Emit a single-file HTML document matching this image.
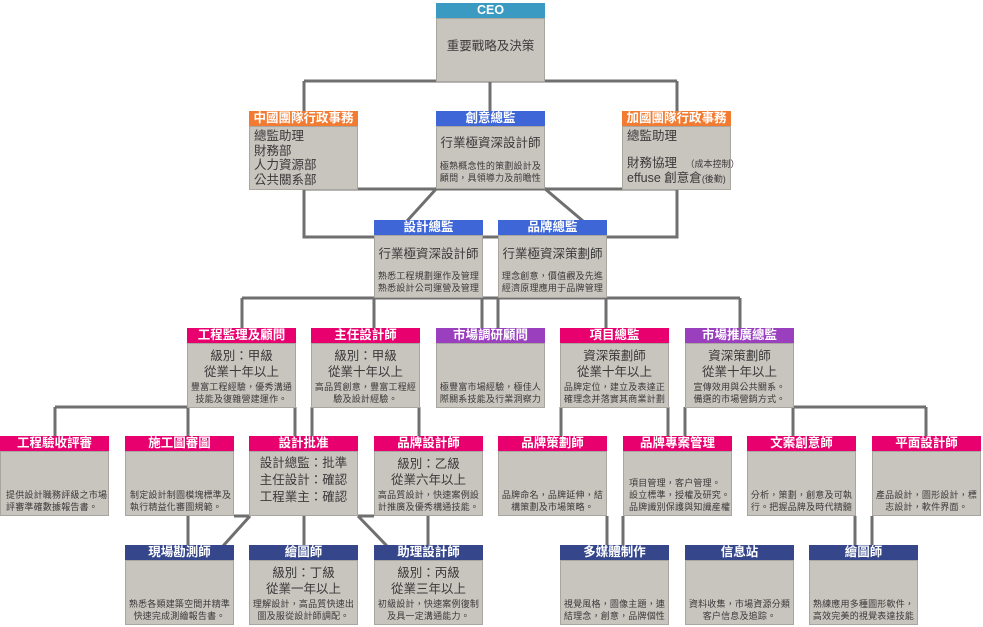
<!DOCTYPE html>
<html><head><meta charset="utf-8">
<style>
body{margin:0;width:983px;height:627px;background:#fff;position:relative;overflow:hidden;font-family:"Liberation Sans","Noto Sans CJK TC",sans-serif;color:#3a3a3a}
svg{position:absolute;left:0;top:0}
.n{position:absolute;width:109px}
.h{height:15px;line-height:15px;color:#fff;font-weight:bold;font-size:12.5px;text-align:center;white-space:nowrap;overflow:hidden}
.b{background:#c8c4be;border:1px solid #a9a59f;box-sizing:border-box;position:relative;text-align:center}
.t{position:absolute;left:0;right:0;white-space:nowrap}
.m{font-size:12.5px;line-height:14px}
.s{font-size:9px;line-height:12px;letter-spacing:0.2px}
.teal{background:#3a9ac2}.or{background:#f27b32}.bl{background:#3e66d6}.mg{background:#e8006f}.pu{background:#9a3fbe}.nv{background:#35478a}
</style></head><body>
<svg width="983" height="627">
<g stroke="#6f6f6f" stroke-width="3" fill="none">
<path d="M304 81H677M304 81V111M490 81V111M677 81V111"/>
<path d="M304 189H677M304 189V237H677V189"/>
<path d="M437 188L407 221M544 188L583 221"/>
<path d="M242 298H740M242 298V328M374 298V328M482 298V328M498 298V328M606 298V328M740 298V328"/>
<path d="M55 407H188M55 407V436M188 407V436M295 407V436M312 407V436M419 407V436"/>
<path d="M561 407V436M668 407V436M685 407V436M793 407H926M793 407V436M926 407V436"/>
<path d="M188 516V546M234 516H250M250 516L223 546M304 516V546M358 516H374M358 516L387 546M428 516V546"/>
<path d="M607 516V546M623 516V546M855 516V546M872 516V546"/>
</g></svg>

<div class="n" style="left:436px;top:3px"><div class="h teal">CEO</div><div class="b" style="height:64px"><div class="t m" style="top:20px">重要戰略及決策</div></div></div>

<div class="n" style="left:249px;top:111px"><div class="h or">中國團隊行政事務</div><div class="b" style="height:64px;text-align:left"><div class="t m" style="top:2px;left:4px;line-height:14.5px">總監助理<br>財務部<br>人力資源部<br>公共關系部</div></div></div>
<div class="n" style="left:436px;top:111px"><div class="h bl">創意總監</div><div class="b" style="height:63px"><div class="t m" style="top:9px">行業極資深設計師</div><div class="t s" style="top:33px">極熟概念性的策劃設計及<br>顧問，具領導力及前瞻性</div></div></div>
<div class="n" style="left:622px;top:111px"><div class="h or">加國團隊行政事務</div><div class="b" style="height:64px;text-align:left"><div class="t m" style="top:2px;left:4px">總監助理</div><div class="t m" style="top:29px;left:4px">財務協理 <span style="font-size:9px">&nbsp;&nbsp;（成本控制）</span></div><div class="t m" style="top:44px;left:4px">effuse 創意倉<span style="font-size:9px">(後勤)</span></div></div></div>

<div class="n" style="left:374px;top:220px"><div class="h bl">設計總監</div><div class="b" style="height:63px"><div class="t m" style="top:11px">行業極資深設計師</div><div class="t s" style="top:34px">熟悉工程規劃運作及管理<br>熟悉設計公司運營及管理</div></div></div>
<div class="n" style="left:498px;top:220px"><div class="h bl">品牌總監</div><div class="b" style="height:63px"><div class="t m" style="top:11px">行業極資深策劃師</div><div class="t s" style="top:34px">理念創意，價值觀及先進<br>經濟原理應用于品牌管理</div></div></div>

<div class="n" style="left:187px;top:328px"><div class="h mg">工程監理及顧問</div><div class="b" style="height:65px"><div class="t m" style="top:4px;line-height:16px">級別：甲級<br>從業十年以上</div><div class="t s" style="top:37px">豐富工程經驗，優秀溝通<br>技能及復雜營建運作。</div></div></div>
<div class="n" style="left:311px;top:328px"><div class="h mg">主任設計師</div><div class="b" style="height:65px"><div class="t m" style="top:4px;line-height:16px">級別：甲級<br>從業十年以上</div><div class="t s" style="top:37px">高品質創意，豐富工程經<br>驗及設計經驗。</div></div></div>
<div class="n" style="left:436px;top:328px"><div class="h pu">市場調研顧問</div><div class="b" style="height:65px"><div class="t s" style="top:37px">極豐富市場經驗，極佳人<br>際關系技能及行業洞察力</div></div></div>
<div class="n" style="left:560px;top:328px"><div class="h mg">項目總監</div><div class="b" style="height:65px"><div class="t m" style="top:4px;line-height:16px">資深策劃師<br>從業十年以上</div><div class="t s" style="top:37px">品牌定位，建立及表達正<br>確理念并落實其商業計劃</div></div></div>
<div class="n" style="left:685px;top:328px"><div class="h pu">市場推廣總監</div><div class="b" style="height:65px"><div class="t m" style="top:4px;line-height:16px">資深策劃師<br>從業十年以上</div><div class="t s" style="top:37px">宣傳效用與公共關系。<br>備選的市場營銷方式。</div></div></div>

<div class="n" style="left:0px;top:436px"><div class="h mg">工程驗收評審</div><div class="b" style="height:65px;text-align:left"><div class="t s" style="top:37px;left:5px">提供設計職務評級之市場<br>評審準確數據報告書。</div></div></div>
<div class="n" style="left:125px;top:436px"><div class="h mg">施工圖審圖</div><div class="b" style="height:65px;text-align:left"><div class="t s" style="top:37px;left:4px">制定設計制圖模塊標準及<br>執行精益化審圖規範。</div></div></div>
<div class="n" style="left:249px;top:436px"><div class="h mg">設計批准</div><div class="b" style="height:65px"><div class="t m" style="top:3px;line-height:17px">設計總監：批準<br>主任設計：確認<br>工程業主：確認</div></div></div>
<div class="n" style="left:374px;top:436px"><div class="h mg">品牌設計師</div><div class="b" style="height:65px"><div class="t m" style="top:4px;line-height:16px">級別：乙級<br>從業六年以上</div><div class="t s" style="top:37px">高品質設計，快速案例設<br>計推廣及優秀構通技能。</div></div></div>
<div class="n" style="left:498px;top:436px"><div class="h mg">品牌策劃師</div><div class="b" style="height:65px"><div class="t s" style="top:37px">品牌命名，品牌延伸，結<br>構策劃及市場策略。</div></div></div>
<div class="n" style="left:623px;top:436px"><div class="h mg">品牌專案管理</div><div class="b" style="height:65px;text-align:left"><div class="t s" style="top:25px;left:5px">項目管理，客户管理。<br>設立標準，授權及研究。<br>品牌識別保護與知識産權</div></div></div>
<div class="n" style="left:747px;top:436px"><div class="h mg">文案創意師</div><div class="b" style="height:65px"><div class="t s" style="top:37px">分析，策劃，創意及可執<br>行。把握品牌及時代精髓</div></div></div>
<div class="n" style="left:872px;top:436px"><div class="h mg">平面設計師</div><div class="b" style="height:65px"><div class="t s" style="top:37px">產品設計，圖形設計，標<br>志設計，軟件界面。</div></div></div>

<div class="n" style="left:125px;top:545px"><div class="h nv">現場勘測師</div><div class="b" style="height:65px"><div class="t s" style="top:37px">熟悉各類建築空間并精準<br>快速完成測繪報告書。</div></div></div>
<div class="n" style="left:249px;top:545px"><div class="h nv">繪圖師</div><div class="b" style="height:65px"><div class="t m" style="top:4px;line-height:16px">級別：丁級<br>從業一年以上</div><div class="t s" style="top:37px">理解設計，高品質快速出<br>圖及服從設計師調配。</div></div></div>
<div class="n" style="left:374px;top:545px"><div class="h nv">助理設計師</div><div class="b" style="height:65px"><div class="t m" style="top:4px;line-height:16px">級別：丙級<br>從業三年以上</div><div class="t s" style="top:37px">初級設計，快速案例復制<br>及具一定溝通能力。</div></div></div>
<div class="n" style="left:560px;top:545px"><div class="h nv">多媒體制作</div><div class="b" style="height:65px"><div class="t s" style="top:37px">視覺風格，圖像主題，連<br>結理念，創意，品牌個性</div></div></div>
<div class="n" style="left:685px;top:545px"><div class="h nv">信息站</div><div class="b" style="height:65px"><div class="t s" style="top:37px">資料收集，市場資源分類<br>客户信息及追踪。</div></div></div>
<div class="n" style="left:809px;top:545px"><div class="h nv">繪圖師</div><div class="b" style="height:65px"><div class="t s" style="top:37px">熟練應用多種圖形軟件，<br>高效完美的視覺表達技能</div></div></div>
</body></html>
